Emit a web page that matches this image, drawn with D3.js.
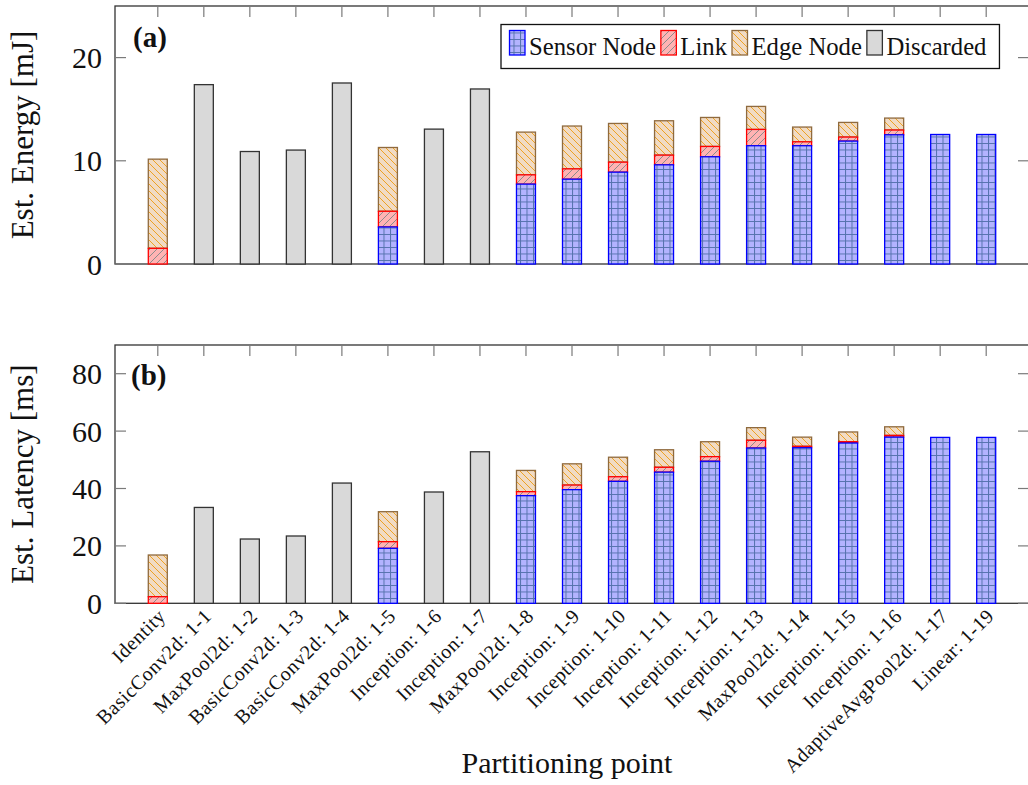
<!DOCTYPE html>
<html>
<head>
<meta charset="utf-8">
<script src="https://cdn.jsdelivr.net/npm/d3@7"></script>
<style>
  html, body { margin: 0; padding: 0; background: #fff; }
  svg { display: block; }
  svg text { font-family: "Liberation Serif", serif; }
</style>
</head>
<body>
<svg id="chart" width="1028" height="785"></svg>
<script>
// ---------------- data ----------------
const categories = ["Identity", "BasicConv2d: 1-1", "MaxPool2d: 1-2", "BasicConv2d: 1-3", "BasicConv2d: 1-4",
  "MaxPool2d: 1-5", "Inception: 1-6", "Inception: 1-7", "MaxPool2d: 1-8", "Inception: 1-9", "Inception: 1-10",
  "Inception: 1-11", "Inception: 1-12", "Inception: 1-13", "MaxPool2d: 1-14", "Inception: 1-15",
  "Inception: 1-16", "AdaptiveAvgPool2d: 1-17", "Linear: 1-19"];

const seriesNames = ["Sensor Node", "Link", "Edge Node", "Discarded"];

// Energy [mJ]
const energySensor    = [0, 0, 0, 0, 0, 3.59, 0, 0, 7.74, 8.22, 8.90, 9.61, 10.39, 11.46, 11.46, 11.91, 12.52, 12.55, 12.55];
const energyLink      = [1.52, 0, 0, 0, 0, 1.52, 0, 0, 0.90, 1.00, 0.97, 0.94, 1.00, 1.58, 0.38, 0.39, 0.46, 0, 0];
const energyEdge      = [8.64, 0, 0, 0, 0, 6.18, 0, 0, 4.14, 4.15, 3.75, 3.33, 2.81, 2.23, 1.43, 1.42, 1.16, 0, 0];
const energyDiscarded = [0, 17.38, 10.90, 11.04, 17.54, 0, 13.07, 16.96, 0, 0, 0, 0, 0, 0, 0, 0, 0, 0, 0];

// Latency [ms]
const latencySensor    = [0, 0, 0, 0, 0, 19.16, 0, 0, 37.5, 39.6, 42.5, 45.7, 49.5, 54.1, 54.2, 55.85, 57.9, 57.8, 57.8];
const latencyLink      = [2.3, 0, 0, 0, 0, 2.31, 0, 0, 1.4, 1.6, 1.6, 1.7, 1.6, 2.7, 0.5, 0.45, 0.6, 0, 0];
const latencyEdge      = [14.53, 0, 0, 0, 0, 10.45, 0, 0, 7.4, 7.4, 6.8, 6.1, 5.2, 4.4, 3.2, 3.4, 3.0, 0, 0];
const latencyDiscarded = [0, 33.4, 22.4, 23.45, 41.9, 0, 38.78, 52.8, 0, 0, 0, 0, 0, 0, 0, 0, 0, 0, 0];

const energyTicks  = [0, 10, 20];
const latencyTicks = [0, 20, 40, 60, 80];

// ---------------- styles ----------------
const FONT = "'Liberation Serif', serif";
const styles = {
  "Sensor Node": { fill: "url(#pSensor)", stroke: "#0000ff" },
  "Link":        { fill: "url(#pLink)",   stroke: "#ff0000" },
  "Edge Node":   { fill: "url(#pEdge)",   stroke: "#8f6a3e" },
  "Discarded":   { fill: "#d9d9d9",       stroke: "#333333" }
};

const svg = d3.select("#chart");
const defs = svg.append("defs");

function mkPattern(id, bg, size, pathD, color, w) {
  const p = defs.append("pattern").attr("id", id).attr("patternUnits", "userSpaceOnUse")
    .attr("width", size).attr("height", size);
  p.append("rect").attr("width", size).attr("height", size).attr("fill", bg);
  p.append("path").attr("d", pathD).attr("stroke", color).attr("stroke-width", w).attr("fill", "none");
}
const gs = 6.5;
mkPattern("pSensor", "#b3b3ff", gs, `M0,0.5H${gs}M0.5,0V${gs}`, "#5572ad", 1);
const ls = 7;
mkPattern("pLink", "#ffb3b3", ls, `M0,${ls}L${ls},0M-1,1L1,-1M${ls-1},${ls+1}L${ls+1},${ls-1}`, "#8c8c8c", 1);
mkPattern("pEdge", "#f1dbc4", ls, `M0,0L${ls},${ls}M-1,${ls-1}L1,${ls+1}M${ls-1},-1L${ls+1},1`, "#eea224", 1);

// ---------------- layout ----------------
const left = 115, right = 1029;
const x = d3.scalePoint().domain(categories).range([left, right]).padding(0.93);
const barW = 19;

const panels = [
  { top: 6, bottom: 264, max: 25, ticks: energyTicks, label: "Est. Energy [mJ]", tag: "(a)",
    tagPos: [133, 47], series: [energySensor, energyLink, energyEdge, energyDiscarded], legend: true },
  { top: 345, bottom: 603.3, max: 90, ticks: latencyTicks, label: "Est. Latency [ms]", tag: "(b)",
    tagPos: [131, 385], series: [latencySensor, latencyLink, latencyEdge, latencyDiscarded], legend: false }
];

panels.forEach(P => {
  const y = d3.scaleLinear().domain([0, P.max]).range([P.bottom, P.top]);

  // frame (drawn first so bar outlines sit on top of it)
  svg.append("rect").attr("x", left).attr("y", P.top).attr("width", right - left).attr("height", P.bottom - P.top)
    .attr("fill", "none").attr("stroke", "#333").attr("stroke-width", 1.3);

  // ticks (inward, mirrored)
  const tk = svg.append("g").attr("stroke", "#7a7a7a").attr("stroke-width", 1.2);
  const tl = 11;
  categories.forEach(c => {
    tk.append("line").attr("x1", x(c)).attr("x2", x(c)).attr("y1", P.top).attr("y2", P.top + tl);
    tk.append("line").attr("x1", x(c)).attr("x2", x(c)).attr("y1", P.bottom).attr("y2", P.bottom - tl);
  });
  P.ticks.forEach(t => {
    tk.append("line").attr("x1", left).attr("x2", left + tl).attr("y1", y(t)).attr("y2", y(t));
    tk.append("line").attr("x1", right).attr("x2", right - tl).attr("y1", y(t)).attr("y2", y(t));
  });

  const g = svg.append("g");
  const rows = categories.map((c, i) => {
    const r = { cat: c };
    seriesNames.forEach((s, k) => r[s] = P.series[k][i]);
    return r;
  });
  const stacked = d3.stack().keys(seriesNames)(rows);

  // draw upper series first so lower series' outlines lie on top
  stacked.slice().reverse().forEach(layer => {
    const st = styles[layer.key];
    g.append("g").selectAll("rect").data(layer).join("rect")
      .attr("x", d => x(d.data.cat) - barW / 2)
      .attr("width", barW)
      .attr("y", d => y(d[1]))
      .attr("height", d => Math.max(0, y(d[0]) - y(d[1])))
      .attr("fill", st.fill)
      .attr("stroke", st.stroke)
      .attr("stroke-width", 1.3);
  });

  // y tick labels
  svg.append("g").selectAll("text").data(P.ticks).join("text")
    .attr("x", left - 13).attr("y", d => y(d)).attr("dy", "0.35em")
    .attr("text-anchor", "end").attr("font-family", FONT).attr("font-size", 30).attr("fill", "#111")
    .text(d => d);

  // y label
  svg.append("text")
    .attr("transform", `translate(33,${(P.top + P.bottom) / 2}) rotate(-90)`)
    .attr("text-anchor", "middle").attr("font-family", FONT).attr("font-size", 31).attr("fill", "#111")
    .text(P.label);

  // tag
  svg.append("text").attr("x", P.tagPos[0]).attr("y", P.tagPos[1]).attr("font-family", FONT)
    .attr("font-size", 29).attr("font-weight", "bold").attr("fill", "#111").text(P.tag);

  if (P.legend) {
    const lg = svg.append("g");
    const box = lg.append("rect").attr("x", 501).attr("y", 24.5).attr("height", 44)
      .attr("fill", "#fff").attr("stroke", "#111").attr("stroke-width", 1.3);
    let cx = 509.5;
    seriesNames.forEach(s => {
      const st = styles[s];
      lg.append("rect").attr("x", cx).attr("y", 30.5).attr("width", 15.5).attr("height", 24.5)
        .attr("fill", st.fill).attr("stroke", st.stroke).attr("stroke-width", 1.3);
      const t = lg.append("text").attr("x", cx + 19.5).attr("y", 55).attr("font-family", FONT)
        .attr("font-size", 24.7).attr("fill", "#111").text(s);
      cx = cx + 19.5 + t.node().getComputedTextLength() + 5;
    });
    box.attr("width", cx - 501 + 8);
  }
});

// x tick labels (bottom panel)
const bottomY = panels[1].bottom;
svg.append("g").selectAll("text").data(categories).join("text")
  .attr("transform", d => `translate(${x(d) + 4},${bottomY + 9}) rotate(-45)`)
  .attr("text-anchor", "end").attr("dy", "0.35em")
  .attr("font-family", FONT).attr("font-size", 20).attr("letter-spacing", 0.5).attr("fill", "#111")
  .text(d => d);

// x axis label
svg.append("text").attr("x", 567).attr("y", 773).attr("text-anchor", "middle").attr("font-family", FONT)
  .attr("font-size", 30).attr("fill", "#111").text("Partitioning point");
</script>
</body>
</html>
